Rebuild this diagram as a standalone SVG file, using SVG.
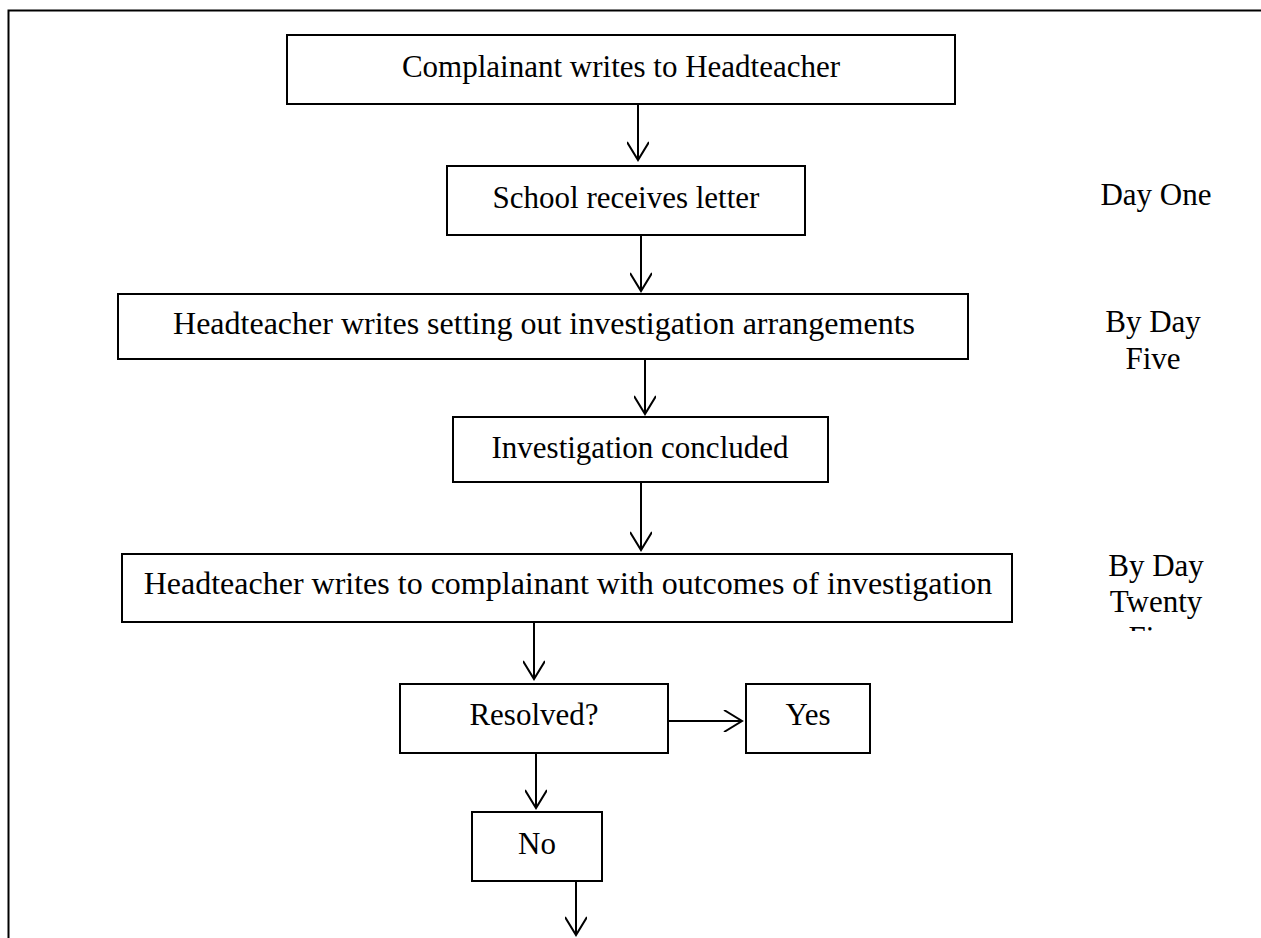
<svg xmlns="http://www.w3.org/2000/svg" width="1261" height="938" viewBox="0 0 1261 938">
<style>
.box{fill:#fff;stroke:#000;stroke-width:2}
.t{font-family:"Liberation Serif","Times New Roman",serif;font-size:31px;fill:#000;text-anchor:middle}
.w{font-size:32px}
.c{stroke:#000;stroke-width:2;fill:none}
</style>
<defs>
<marker id="ah" markerUnits="userSpaceOnUse" markerWidth="26" markerHeight="22" refX="20" refY="11" orient="auto">
<path d="M2,0 L20,11 L2,22" fill="none" stroke="#000" stroke-width="2"/>
</marker>
<clipPath id="clipT"><rect x="1050" y="520" width="211" height="111"/></clipPath>
</defs>
<rect width="1261" height="938" fill="#fff"/>
<g id="frame"><path d="M1261,10.5 H8.5 V938" fill="none" stroke="#000" stroke-width="2"/></g>
<g id="n1"><rect class="box" x="287" y="35" width="668" height="69"/><text class="t" x="621" y="77">Complainant writes to Headteacher</text></g>
<g id="n2"><rect class="box" x="447" y="166" width="358" height="69"/><text class="t" x="626" y="208">School receives letter</text></g>
<g id="n3"><rect class="box" x="118" y="294" width="850" height="65"/><text class="t w" x="544" y="334">Headteacher writes setting out investigation arrangements</text></g>
<g id="n4"><rect class="box" x="453" y="417" width="375" height="65"/><text class="t" x="640" y="458">Investigation concluded</text></g>
<g id="n5"><rect class="box" x="122" y="554" width="890" height="68"/><text class="t w" x="568" y="594">Headteacher writes to complainant with outcomes of investigation</text></g>
<g id="n6"><rect class="box" x="400" y="684" width="268" height="69"/><text class="t" x="534" y="725">Resolved?</text></g>
<g id="n7"><rect class="box" x="746" y="684" width="124" height="69"/><text class="t" x="808" y="725">Yes</text></g>
<g id="n8"><rect class="box" x="472" y="812" width="130" height="69"/><text class="t" x="537" y="854">No</text></g>
<g id="labels">
<text class="t" x="1156" y="205">Day One</text>
<text class="t" x="1153" y="332">By Day</text>
<text class="t" x="1153" y="369">Five</text>
<g clip-path="url(#clipT)">
<text class="t" x="1156" y="576">By Day</text>
<text class="t" x="1156" y="612">Twenty</text>
<text class="t" x="1156" y="648">Five</text>
</g>
</g>
<g id="connectors">
<line class="c" x1="638" y1="104" x2="638" y2="160" marker-end="url(#ah)"/>
<line class="c" x1="641" y1="235" x2="641" y2="291" marker-end="url(#ah)"/>
<line class="c" x1="645" y1="359" x2="645" y2="414" marker-end="url(#ah)"/>
<line class="c" x1="641" y1="482" x2="641" y2="550" marker-end="url(#ah)"/>
<line class="c" x1="534" y1="622" x2="534" y2="679" marker-end="url(#ah)"/>
<line class="c" x1="668" y1="721" x2="742" y2="721" marker-end="url(#ah)"/>
<line class="c" x1="536" y1="753" x2="536" y2="808" marker-end="url(#ah)"/>
<line class="c" x1="576" y1="881" x2="576" y2="935" marker-end="url(#ah)"/>
</g>
</svg>
